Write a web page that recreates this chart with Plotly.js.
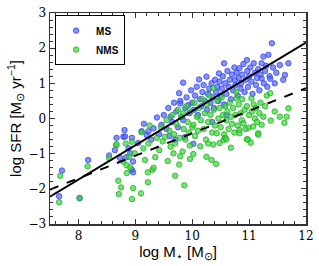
<!DOCTYPE html>
<html><head><meta charset="utf-8">
<script src="https://cdn.plot.ly/plotly-3.0.1.min.js"></script>
<style>html,body{margin:0;padding:0;background:#fff}#chart{width:319px;height:266px}</style>
</head><body><div id="chart"></div>
<script>
const msX = [7.66,7.71,8.02,8.17,8.54,8.64,8.67,8.79,8.81,8.82,8.88,8.91,8.94,8.96,8.94,8.96,8.84,8.73,
9.11,9.20,9.23,9.32,9.38,9.46,9.05,9.28,9.15,9.42,9.50,9.55,9.58,9.62,9.65,9.68,9.70,9.72,9.75,9.77,9.79,9.79,
9.82,9.84,9.84,9.87,9.88,9.90,9.93,9.95,9.98,10.00,10.02,10.03,10.05,10.08,10.10,10.12,10.14,10.16,10.18,10.20,
10.22,10.25,10.26,10.28,10.30,10.32,10.34,10.36,10.38,10.40,10.42,10.44,10.46,10.47,10.48,10.50,10.52,10.54,10.56,10.56,
10.58,10.60,10.62,10.64,10.66,10.68,10.70,10.72,10.74,10.75,10.76,10.78,10.80,10.82,10.83,10.85,10.86,10.88,10.90,10.92,
10.94,10.96,10.97,10.98,11.00,11.02,11.04,11.06,11.08,11.10,11.12,11.14,11.16,11.18,11.20,11.22,11.22,11.25,11.26,11.28,
11.30,11.32,11.34,11.36,11.37,11.40,11.42,11.45,11.48,11.54,11.60,11.63,11.69,10.35,10.60,9.60];
const msY = [-2.21,-1.48,-2.26,-1.18,-1.05,-0.90,-0.55,-0.52,-0.33,-0.51,-0.85,-0.99,-0.55,-1.22,-1.46,-1.53,-1.10,-1.12,
-0.36,-0.47,-0.36,-0.28,0.03,-0.18,-0.70,-0.60,-0.15,-0.45,0.10,-0.30,0.30,0.05,-0.10,0.45,-0.60,0.20,-0.25,0.72,0.50,0.43,
0.05,1.02,-0.04,-0.53,0.30,0.60,0.38,0.15,0.80,0.45,-0.72,0.25,0.65,0.90,0.10,1.11,0.55,0.35,0.75,0.95,
0.50,1.19,0.25,0.70,0.85,0.45,1.00,0.60,0.30,1.10,0.75,0.90,0.50,1.28,1.05,0.65,0.85,1.20,1.57,0.40,
1.00,0.70,1.35,0.90,1.10,0.55,1.25,0.80,1.45,1.09,0.95,1.30,0.65,1.15,1.43,0.85,1.00,1.25,1.55,0.75,
1.10,1.66,1.35,0.90,1.20,1.45,1.05,0.70,1.57,1.30,0.95,1.15,1.40,0.80,1.25,1.57,1.14,1.76,1.00,1.35,
1.50,0.90,1.81,1.20,1.13,2.14,1.45,1.00,1.30,1.52,1.10,1.24,1.57,-0.10,0.10,-0.50];

const nmsX = [7.66,7.68,8.02,8.16,8.54,8.66,8.67,8.70,8.71,8.75,8.79,8.83,8.85,8.85,8.89,8.91,8.94,8.94,8.96,8.99,
9.10,9.11,9.14,9.17,9.22,9.22,9.23,9.25,9.30,9.32,9.35,9.38,9.42,9.45,9.48,9.52,9.55,9.57,9.60,9.62,
9.65,9.67,9.68,9.70,9.70,9.72,9.75,9.77,9.78,9.79,9.80,9.83,9.84,9.85,9.86,9.88,9.90,9.92,9.94,9.96,
9.96,9.98,10.00,10.02,10.02,10.04,10.05,10.08,10.10,10.12,10.14,10.15,10.18,10.20,10.22,10.24,10.25,10.26,10.28,10.28,
10.30,10.32,10.34,10.35,10.37,10.37,10.38,10.40,10.42,10.43,10.44,10.46,10.48,10.48,10.50,10.52,10.54,10.55,10.56,10.58,
10.58,10.60,10.60,10.62,10.64,10.66,10.68,10.68,10.70,10.72,10.74,10.76,10.77,10.78,10.80,10.82,10.83,10.83,10.85,10.87,
10.88,10.90,10.92,10.94,10.96,10.96,10.98,10.99,11.00,11.03,11.04,11.05,11.07,11.08,11.10,11.12,11.14,11.16,11.16,11.18,
11.20,11.22,11.25,11.28,11.31,11.37,11.38,11.45,11.54,11.62,11.66,11.69];
const nmsY = [-2.38,-1.63,-2.27,-1.36,-1.13,-0.76,-0.73,-1.77,-2.15,-1.96,-1.23,-0.71,-1.33,-1.55,-1.09,-1.39,-0.66,-2.29,-1.98,-0.99,
-2.13,-0.39,-0.85,-1.18,-1.81,-1.53,-0.71,-0.20,-1.46,-1.40,-1.10,-0.55,-0.90,-0.25,-0.65,-0.52,-0.05,-1.21,-0.35,-0.80,
0.10,-0.99,-0.45,-0.71,-1.63,-0.15,0.25,-1.31,-0.55,-1.07,0.05,-0.94,0.15,-0.30,-1.90,-0.60,0.35,-0.10,-0.40,-0.77,
-1.15,0.20,-0.25,-1.01,-0.18,0.45,-0.50,0.05,-0.35,0.30,-0.79,-0.05,0.55,-0.30,0.15,-0.60,-1.09,0.40,-0.71,-0.10,
0.65,0.10,-1.18,-0.40,0.86,-0.74,0.25,-0.20,-1.29,-0.42,0.50,0.00,-0.70,0.30,-0.25,0.60,0.10,-0.61,-0.45,-0.55,
0.35,-0.05,-0.59,0.20,-0.30,0.45,-0.83,0.05,-0.15,0.30,-0.40,0.10,0.76,0.57,-0.20,0.40,-0.33,-0.42,0.15,-0.05,
0.55,-0.14,0.25,-0.30,-0.59,0.35,-0.60,-0.26,0.10,-0.69,0.57,0.20,-0.23,0.40,0.00,0.30,-0.10,-0.42,-0.46,0.15,
0.45,-0.18,0.05,0.35,0.65,0.72,-0.06,0.20,0.05,-0.12,0.05,0.29];

const fitX = [7.5, 12];
const msFitY = [-2.22, 2.16];
const nmsFitY = [-2.02, 0.86];

const traces = [
  {x: msX, y: msY, type:'scatter', mode:'markers', name:'MS',
   marker:{size:5.5, color:'rgba(80,100,250,0.7)', line:{color:'rgba(45,60,235,0.9)', width:0.8}}},
  {x: nmsX, y: nmsY, type:'scatter', mode:'markers', name:'NMS',
   marker:{size:5.5, color:'rgba(60,215,60,0.7)', line:{color:'rgba(25,170,25,0.9)', width:0.8}}},
  {x: fitX, y: msFitY, type:'scatter', mode:'lines', showlegend:false, line:{color:'#000', width:2}},
  {x: fitX, y: nmsFitY, type:'scatter', mode:'lines', showlegend:false, line:{color:'#000', width:2, dash:'dash'}}
];

const axisCommon = {
  showgrid:false, zeroline:false, showline:true, linecolor:'#333', linewidth:1.5, mirror:'allticks',
  ticks:'inside', ticklen:5, tickwidth:1.2, tickcolor:'#333',
  tickfont:{family:'DejaVu Serif, serif', size:12, color:'#000'},
  minor:{dtick:0.2, ticks:'inside', ticklen:3, tickwidth:1, tickcolor:'#333', showgrid:false}
};

const layout = {
  width:319, height:266, margin:{l:50, r:13, t:13, b:42},
  paper_bgcolor:'#fff', plot_bgcolor:'#fff', showlegend:true,
  xaxis: Object.assign({}, axisCommon, {range:[7.5,12], dtick:1, tick0:8,
    title:{text:'log M<sub>⋆</sub> [M<sub>⊙</sub>]', font:{family:'Liberation Sans, Arial, sans-serif', size:15, color:'#000'}, standoff:2}}),
  yaxis: Object.assign({}, axisCommon, {range:[-3,3], dtick:1,
    title:{text:'log SFR [M<sub>⊙</sub> yr<sup>−1</sup>]', font:{family:'Liberation Sans, Arial, sans-serif', size:15, color:'#000'}, standoff:3}}),
  legend:{x:0.02, y:0.99, xanchor:'left', yanchor:'top', bgcolor:'#fff', bordercolor:'#000', borderwidth:1,
    font:{family:'Liberation Sans, Arial, sans-serif', size:10, color:'#000', weight:'bold'}, itemwidth:30, tracegroupgap:0}
};

Plotly.newPlot('chart', traces, layout, {displayModeBar:false, staticPlot:true});
</script></body></html>
